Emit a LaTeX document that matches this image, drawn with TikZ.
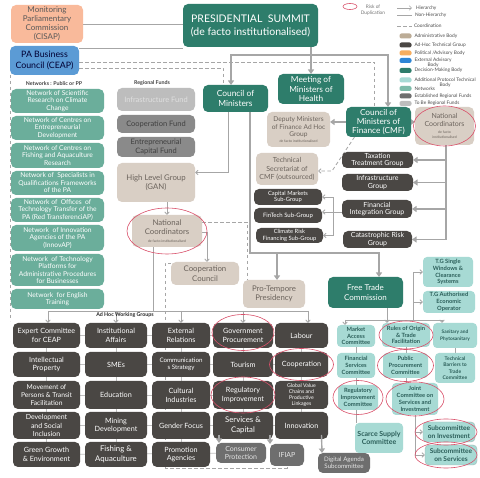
\documentclass[tikz,border=0pt]{standalone}
\usepackage{fontspec}
\setmainfont{Lato}
\usepackage{xcolor}
\usepackage{tikz}
\usetikzlibrary{arrows.meta, positioning, backgrounds}

\definecolor{dmgreen}{HTML}{2E7D6B}
\definecolor{netgreen}{HTML}{6BAE9B}
\definecolor{admbeige}{HTML}{D9CFC5}
\definecolor{admtext}{HTML}{6B635C}
\definecolor{adhocgray}{HTML}{4A4744}
\definecolor{protteal}{HTML}{A7DAD4}
\definecolor{prottext}{HTML}{2B5E59}
\definecolor{polsalmon}{HTML}{F9BA9B}
\definecolor{extblue}{HTML}{5B9BD5}
\definecolor{fundlight}{HTML}{BDBDBD}
\definecolor{funddark}{HTML}{8A8A8A}
\definecolor{estgray}{HTML}{6E6E6E}
\definecolor{linegray}{HTML}{A6A6A6}
\definecolor{dupred}{HTML}{D9506A}
\definecolor{lgadm}{HTML}{BCAC96}
\definecolor{lgpol}{HTML}{F7AE5F}
\definecolor{lgext}{HTML}{2F86D6}
\definecolor{lgnet}{HTML}{7DBBA9}

\newcommand{\fsz}[2]{\fontsize{#1}{#2}\selectfont}
\newcommand{\tinytxt}[1]{{\fontsize{3.5}{4}\selectfont #1}}

\begin{document}
\begin{tikzpicture}[x=1pt, y=-1pt,
    every node/.style={align=center, inner sep=0.5pt, outer sep=0pt},
    sz/.style 2 args={minimum width=#1pt, minimum height=#2pt},
    dmbox/.style={fill=dmgreen, text=white, rounded corners=5pt, font=\fsz{8.4}{9.6}},
    netbox/.style={fill=netgreen, text=white, rounded corners=5pt, minimum width=93pt, font=\fsz{6.7}{7.5}},
    admbox/.style={fill=admbeige, text=admtext, rounded corners=5pt, font=\fsz{7.8}{9.5}},
    fundbox/.style={rounded corners=5pt, minimum width=78pt, font=\fsz{7.5}{8.6}},
    grpbox/.style={fill=adhocgray, text=white, rounded corners=5pt, font=\fsz{7.2}{8.8}},
    estbox/.style={fill=estgray, text=white!90!black, rounded corners=5pt, font=\fsz{7}{8.2}},
    protbox/.style={fill=protteal, text=prottext, rounded corners=4pt, font=\bfseries\fsz{5.8}{6.8}},
    harr/.style={draw=linegray, line width=1.4pt, -{Triangle[length=4.5pt, width=6pt]}},
    hdarr/.style={draw=linegray, line width=1.4pt, {Triangle[length=4.5pt, width=6pt]}-{Triangle[length=4.5pt, width=6pt]}},
    tarr/.style={draw=linegray, line width=0.8pt, -{Straight Barb[length=2.5pt, width=4.5pt]}},
    tline/.style={draw=linegray, line width=0.8pt},
    gridln/.style={draw=black!25, line width=0.7pt},
    coordln/.style={draw=linegray, line width=0.8pt, dash pattern=on 3.5pt off 2.5pt},
    dup/.style={draw=dupred, line width=0.6pt},
    lgtext/.style={text=black!70, font=\fsz{4.8}{5.4}, inner sep=0pt},
    swatch/.style={rounded corners=2pt, minimum width=12pt, minimum height=5pt, inner sep=0pt},
    hdr/.style={font=\bfseries\fsz{5.3}{6}, text=black!75}
]
\useasboundingbox (0,0) rectangle (480,478);

% top level
\node[fill=polsalmon, text=black!65, rounded corners=5pt, font=\fsz{8}{9}, sz={72}{38}] (cisap) at (47,24) {Monitoring\\Parliamentary\\Commission\\(CISAP)};
\node[fill=extblue, text=black!80!blue, rounded corners=5pt, font=\fsz{8.8}{10.5}, sz={69}{29}] (ceap) at (44.5,60.5) {PA Business\\Council (CEAP)};
\node[dmbox, font=\fsz{10.5}{13}, sz={135}{43}] (summit) at (250.5,25.5) {PRESIDENTIAL~~SUMMIT\\(de facto institutionalised)};
\node[dmbox, sz={65}{27}] (com) at (235.5,98.5) {Council of\\Ministers};
\node[dmbox, sz={66}{30}, font=\fsz{8.3}{9.3}] (health) at (311,89) {Meeting of\\Ministers of\\Health};
\node[dmbox, sz={65}{30}, font=\fsz{8.3}{9.3}] (cmf) at (378.5,122) {Council of\\Ministers of\\Finance (CMF)};
\node[admbox, sz={59}{38}, font=\fsz{7}{8}] (ncR) at (444.5,126) {National\\Coordinators\\[-1pt]\tinytxt{de facto}\\[-3.5pt]\tinytxt{institutionalised}};

% finance groups
\node[admbox, sz={63}{35}, font=\fsz{6.6}{7.6}] (deputy) at (298.5,129.5) {Deputy Ministers\\of Finance Ad Hoc\\Group\\[-2pt]\tinytxt{de facto institutionalised}};
\node[admbox, sz={62}{32}, font=\fsz{7}{8.5}] (techsec) at (287,169) {Technical\\Secretariat of\\CMF (outsourced)};
\node[grpbox, sz={68}{16}, font=\fsz{5.8}{6.6}] (capmkt) at (288,197) {Capital Markets\\Sub-Group};
\node[grpbox, sz={68}{15}, font=\fsz{6}{7}] (fintech) at (288,215.5) {FinTech Sub-Group};
\node[grpbox, sz={67}{15}, font=\fsz{5.8}{6.6}] (climate) at (289.5,235.5) {Climate Risk\\Financing Sub-Group};
\node[grpbox, sz={71}{16}, font=\fsz{7}{7.6}] (tax) at (377.5,160) {Taxation\\Treatment Group};
\node[grpbox, sz={71}{17}, font=\fsz{7}{7.8}] (infra) at (377.5,182.5) {Infrastructure\\Group};
\node[grpbox, sz={70}{18}, font=\fsz{7}{7.8}] (finint) at (377,209) {Financial\\Integration Group};
\node[grpbox, sz={69}{17}, font=\fsz{7}{7.8}] (cat) at (377.5,239.5) {Catastrophic Risk\\Group};

% regional funds
\node[hdr] (fundHdr) at (152,83) {Regional Funds};
\node[fundbox, fill=fundlight, text=white!88!black, minimum height=23pt] (infFund) at (156,99.5) {Infrastructure Fund};
\node[fundbox, fill=funddark, text=black!75, minimum height=18pt, below=4pt of infFund] (coopFund) {Cooperation Fund};
\node[fundbox, fill=funddark, text=black!75, minimum height=20pt, below=4pt of coopFund] (entFund) {Entrepreneurial\\Capital Fund};
\node[admbox, sz={78}{39}, below=6pt of entFund] (gan) {High Level Group\\(GAN)};
\node[admbox, sz={70}{32}] (ncL) at (167,231) {National\\Coordinators\\[-1.5pt]\tinytxt{de facto institutionalised}};
\node[admbox, sz={68}{23}] (coopCouncil) at (205,273.5) {Cooperation\\Council};
\node[admbox, sz={62}{28}] (pro) at (274,294) {Pro-Tempore\\Presidency};

% networks
\node[hdr] (netHdr) at (54,83.5) {Networks : Public or PP};
\node[netbox, minimum height=24pt] (n1) at (57.5,101) {Network of Scientific\\Research on Climate\\Change};
\node[netbox, minimum height=24pt, below=3pt of n1] (n2) {Network of Centres on\\Entrepreneurial\\Development};
\node[netbox, minimum height=25pt, below=3pt of n2] (n3) {Network of Centres on\\Fishing and Aquaculture\\Research};
\node[netbox, minimum height=24pt, below=3pt of n3] (n4) {Network of~ Specialists in\\Qualifications Frameworks\\of the PA};
\node[netbox, minimum height=24pt, below=3pt of n4] (n5) {Network of~ Offices~ of\\Technology Transfer of the\\PA (Red TransferenciAP)};
\node[netbox, minimum height=26pt, below=3pt of n5] (n6) {Network~ of Innovation\\Agencies of the PA\\(InnovAP)};
\node[netbox, minimum height=32pt, below=3pt of n6] (n7) {Network~ of Technology\\Platforms for\\Administrative Procedures\\for Businesses};
\node[netbox, minimum height=20pt, below=3pt of n7] (n8) {Network~ for English\\Training};

% ad hoc working groups
\node[hdr, text=black!85] (adhocHdr) at (125,315.5) {Ad Hoc Working Groups};
\node[grpbox, sz={67}{25}] (g11) at (46.5,335.5) {Expert Committee\\for CEAP};
\node[grpbox, sz={67}{25}, below=4pt of g11] (g12) {Intellectual\\Property};
\node[grpbox, sz={67}{28}, below=4pt of g12, font=\fsz{6.7}{8}] (g13) {Movement of\\Persons \& Transit\\Facilitation};
\node[grpbox, sz={67}{27}, below=3pt of g13, font=\fsz{7}{8.3}] (g14) {Development\\and Social\\Inclusion};
\node[grpbox, sz={67}{25}, below=3pt of g14] (g15) {Green Growth\\\& Environment};
\node[grpbox, sz={62}{25}] (g21) at (116,335.5) {Institutional\\Affairs};
\node[grpbox, sz={62}{25}, below=4pt of g21] (g22) {SMEs};
\node[grpbox, sz={62}{28}, below=4pt of g22] (g23) {Education};
\node[grpbox, sz={62}{27}, below=3pt of g23] (g24) {Mining\\Development};
\node[grpbox, sz={62}{25}, below=3pt of g24, font=\fsz{7.8}{9.5}] (g25) {Fishing \&\\Aquaculture};
\node[grpbox, sz={58}{25}] (g31) at (181,335.5) {External\\Relations};
\node[grpbox, sz={58}{25}, below=4pt of g31, font=\fsz{6.2}{7.5}] (g32) {Communication\\s Strategy};
\node[grpbox, sz={58}{28}, below=4pt of g32] (g33) {Cultural\\Industries};
\node[grpbox, sz={58}{27}, below=3pt of g33] (g34) {Gender Focus};
\node[grpbox, sz={58}{25}, below=3pt of g34] (g35) {Promotion\\Agencies};
\node[grpbox, sz={60}{25}] (g41) at (243,335.5) {Government\\Procurement};
\node[grpbox, sz={60}{25}, below=4pt of g41] (g42) {Tourism};
\node[grpbox, sz={60}{28}, below=4pt of g42] (g43) {Regulatory\\Improvement};
\node[grpbox, sz={60}{27}, below=3pt of g43, font=\fsz{7.8}{9.5}] (g44) {Services \&\\Capital};
\node[estbox, sz={50}{20}] (cons) at (241,453) {Consumer\\Protection};
\node[grpbox, sz={53}{25}] (g51) at (301.5,335.5) {Labour};
\node[grpbox, sz={53}{25}, below=4pt of g51] (g52) {Cooperation};
\node[grpbox, sz={53}{28}, below=4pt of g52, font=\fsz{5.2}{6.2}] (g53) {Global Value\\Chains and\\Productive\\Linkages};
\node[grpbox, sz={53}{27}, below=3pt of g53] (g54) {Innovation};
\node[estbox, sz={34}{22}] (ifiap) at (287,455) {IFIAP};
\node[estbox, sz={52}{20}, font=\fsz{6.2}{7.4}] (digital) at (344,463) {Digital Agenda\\Subcommittee};

% free trade commission
\node[dmbox, sz={75}{31}, font=\fsz{8}{9.5}] (ftc) at (365.5,292.5) {Free Trade\\Commission};
\node[protbox, sz={50}{30}] (tgsw) at (448,272) {T.G Single\\Windows \&\\Clearance\\Systems};
\node[protbox, sz={52}{22}] (tgaeo) at (449,302) {T.G Authorised\\Economic\\Operator};
\node[protbox, sz={38}{22}] (mac) at (356,336) {Market\\Access\\Committee};
\node[protbox, sz={48}{24}] (roo) at (406,335) {Rules of Origin\\\& Trade\\Facilitation};
\node[protbox, sz={44}{25}, font=\bfseries\fsz{4.8}{6.5}] (sps) at (455,335.5) {Sanitary and\\Phytosanitary};
\node[protbox, sz={38}{25}] (fsc) at (356,365.5) {Financial\\Services\\Committee};
\node[protbox, sz={45}{25}] (ppc) at (405.5,365.5) {Public\\Procurement\\Committee};
\node[protbox, sz={40}{30}, font=\bfseries\fsz{5}{6.4}] (tbt) at (455,368) {Technical\\Barriers to\\Trade\\Committee};
\node[protbox, sz={40}{25}] (ric) at (358,397.5) {Regulatory\\Improvement\\Committee};
\node[protbox, sz={46}{32}] (jcsi) at (415,399) {Joint\\Committee on\\Services and\\Investment};
\node[protbox, sz={48}{30}, font=\bfseries\fsz{7}{8.5}] (ssc) at (379,438) {Scarce Supply\\Committee};
\node[protbox, draw=prottext!45, sz={52}{20}, font=\bfseries\fsz{6.6}{7.6}] (subinv) at (449,432) {Subcommittee\\on Investment};
\node[protbox, draw=prottext!45, sz={52}{20}, font=\bfseries\fsz{6.6}{7.6}] (subsvc) at (451,455) {Subcommittee\\on Services};

\begin{scope}[on background layer]
  \fill[white] (0,0) rectangle (480,478);
  % summit links
  \coordinate (ceapTop) at ([yshift=12.5pt]ceap.east);
  \coordinate (ceapD1) at ([yshift=-1.5pt]ceap.east);
  \coordinate (ceapD2) at ([yshift=-7.5pt]ceap.east);
  \coordinate (adhocL) at (10,321);
  \draw[tline] (cisap.east) -- (cisap.east -| summit.west);
  \draw[tline] (ceapTop) -- (ceapTop -| summit.west);
  \draw[coordln] (ceapD1) -| ([xshift=-4.5pt]cmf.north);
  \draw[coordln] (ceapD2) -| ([xshift=-12.5pt]com.north);
  \draw[coordln] (ceap.south west) -- (adhocL);
  \coordinate (sbusL) at (231,55);
  \coordinate (sbusR) at (388,55);
  \draw[hdarr] (com.north -| sbusL) -- (sbusL) -- (sbusR) -- (cmf.north -| sbusR);
  \draw[harr] (health.north |- summit.south) -- (health.north);
  % council of ministers
  \coordinate (fork) at (277,253);
  \draw[tarr] ([xshift=-7.5pt]com.south) |- ([yshift=10pt]gan.east);
  \draw[harr] ([xshift=14.5pt]com.south) |- (fork) -| ([xshift=13.5pt]ftc.north);
  \draw[harr] (fork) -- (fork |- pro.north);
  % finance
  \coordinate (tsBend) at (332,171);
  \coordinate (ncRb) at (446,145);
  \coordinate (fiB) at (333,212);
  \draw[harr] (cmf.west) -- (cmf.west -| deputy.east);
  \draw[harr] (cmf.east) -- (cmf.east -| ncR.west);
  \draw[coordln, -{Straight Barb[length=2.5pt, width=4.5pt]}] ([xshift=-24pt]cmf.south) -- (tsBend) -- (tsBend -| techsec.east);
  \draw[harr] (ncRb) |- (cat.east);
  \draw[harr] (ncRb |- tax.east) -- (tax.east);
  \draw[harr] (ncRb |- infra.east) -- (infra.east);
  \draw[harr] (ncRb |- finint.east) -- (finint.east);
  \draw[tarr] (finint.west |- fiB) -- (fiB -| fintech.east);
  \draw[tarr] (fiB) |- (capmkt.east);
  \draw[tarr] (fiB) |- (climate.east);
  % national coordinators
  \coordinate (ncLr) at ([yshift=-1pt]ncL.east);
  \coordinate (ncLd) at ([yshift=9pt]ncL.east);
  \coordinate (ccL) at ([yshift=10.5pt]coopCouncil.west);
  \coordinate (ccBot) at (165,468);
  \draw[tarr] (ncL.north |- gan.south) -- (ncL.north);
  \draw[tarr] (ncLr) -| ([xshift=2pt]coopCouncil.north);
  \draw[coordln] (ncLd) -| ([xshift=-27pt]pro.north);
  \draw[coordln] (ccL) -| (ccBot) -| (ifiap.south);
  % ad hoc groups
  \coordinate (ahL) at (48,311);
  \coordinate (ahR) at (308,311);
  \draw[tline] ([xshift=-14pt]ncL.south) -- ++(0,64);
  \draw[tline] (ahL) -- (ahR);
  \draw[tarr] (ahL) -- (ahL |- g11.north);
  \draw[tarr] (ahL -| g21.north) -- (g21.north);
  \draw[tarr] (ahL -| g31.north) -- (g31.north);
  \draw[tarr] (ahL -| g41.north) -- (g41.north);
  \draw[tarr] (ahR) -- (ahR |- g51.north);
  \draw[gridln] (g11) -- (g51);
  \draw[gridln] (g12) -- (g52);
  \draw[gridln] (g13) -- (g53);
  \draw[gridln] (g14) -- (g54);
  \draw[gridln] (g15) -- (cons);
  \draw[gridln] (g11) -- (g15);
  \draw[gridln] (g21) -- (g25);
  \draw[gridln] (g31) -- (g35);
  \draw[gridln] (g41) -- (g44);
  \draw[gridln] (g51) -- (g54);
  % free trade commission
  \coordinate (ftcBus) at (387,320);
  \coordinate (busL) at (345,320);
  \coordinate (busR) at (442,320);
  \coordinate (tgBus) at (413,320);
  \draw[tline] (ftc.south -| ftcBus) -- (ftcBus);
  \draw[tline] (busL) -- (busR);
  \draw[tarr] (busL) -- (busL |- mac.north);
  \draw[tarr] (ftcBus) -- (ftcBus |- roo.north);
  \draw[tarr] (busR) -- (busR |- sps.north);
  \draw[tarr] (tgBus) |- (tgsw.west);
  \draw[tarr] (tgBus) |- (tgaeo.west);
  \draw[tline] (mac) -- (mac |- ssc.north);
  \draw[tline] (roo) -- (roo |- jcsi.north);
  \draw[tline] (sps) -- (tbt);
  \draw[tarr] (jcsi.south) |- (subinv.west);
  \draw[tarr] (jcsi.south) |- (subsvc.west);
\end{scope}

% arrows over the lower boxes
\draw[harr] ([xshift=-24pt, yshift=4pt]g44.south) -- ([xshift=-22pt]cons.north);
\draw[harr] ([xshift=27pt, yshift=4pt]g44.south) -- ([xshift=-17pt]ifiap.north);
\draw[harr] ([xshift=20pt, yshift=4pt]g54.south) -- ([xshift=-22pt]digital.north);

% risk of duplication
\draw[dup] (ncR.center) ellipse (31pt and 20pt);
\draw[dup] (ncL.center) ellipse (40pt and 23pt);
\draw[dup] ([yshift=3pt]g41.center) ellipse (31pt and 18pt);
\draw[dup] (g52.center) ellipse (32pt and 16pt);
\draw[dup] (g43.center) ellipse (32pt and 18pt);
\draw[dup] (roo.center) ellipse (27pt and 14pt);
\draw[dup] (ppc.center) ellipse (28pt and 16pt);
\draw[dup] (ric.center) ellipse (25pt and 17pt);
\draw[dup] (jcsi.center) ellipse (29pt and 17pt);
\draw[dup] ([xshift=-3pt]subinv.center) ellipse (31pt and 13pt);
\draw[dup] ([xshift=-5pt]subsvc.center) ellipse (31pt and 13pt);

% legend
\coordinate (lgDup) at (350,6.5);
\coordinate (lgH) at (397,8);
\coordinate (lgN) at (397,15.5);
\coordinate (lgC) at (397,26);
\draw[dup] (lgDup) ellipse (7pt and 3pt);
\node[lgtext, text=black!55] (lgDupT) at (373,10) {Risk of\\Duplication};
\draw[tarr, line width=0.5pt] (lgH) -- ++(15,0) node[lgtext, right=4pt] (lgHT) {Hierarchy};
\draw[tline, line width=0.5pt] (lgN) -- ++(15,0) node[lgtext, right=3pt] (lgNT) {Non-Hierarchy};
\draw[coordln] (lgC) -- ++(15,0) node[lgtext, right=2pt] (lgCT) {Coordination};
\node[swatch, fill=lgadm] (swAdm) at (405.5,36) {};
\node[swatch, fill=adhocgray] (swGrp) at (405.5,45) {};
\node[swatch, fill=lgpol] (swPol) at (405.5,53) {};
\node[swatch, fill=lgext] (swExt) at (405.5,60.5) {};
\node[swatch, fill=dmgreen] (swDm) at (405.5,70.5) {};
\node[swatch, fill=protteal] (swProt) at (405.5,80) {};
\node[swatch, fill=lgnet] (swNet) at (405.5,88.5) {};
\node[swatch, fill=estgray] (swEst) at (405.5,96) {};
\node[swatch, fill=fundlight] (swTbr) at (405.5,103.5) {};
\node[lgtext, right=3pt of swAdm] (lgAdm) {Administrative Body};
\node[lgtext, right=3pt of swGrp] (lgGrp) {Ad-Hoc Technical Group};
\node[lgtext, right=3pt of swPol] (lgPol) {Political /Advisory Body};
\node[lgtext, anchor=north west] (lgExt) at ([xshift=3pt, yshift=2.5pt]swExt.east) {External Advisory\\Body};
\node[lgtext, right=3pt of swDm] (lgDm) {Decision-Making Body};
\node[lgtext, anchor=north west] (lgProt) at ([xshift=3pt, yshift=2.5pt]swProt.east) {Additional Protocol Technical\\Body};
\node[lgtext, right=3pt of swNet] (lgNet) {Networks};
\node[lgtext, right=3pt of swEst] (lgEst) {Established Regional Funds};
\node[lgtext, right=3pt of swTbr] (lgTbr) {To Be Regional Funds};
\end{tikzpicture}
\end{document}
